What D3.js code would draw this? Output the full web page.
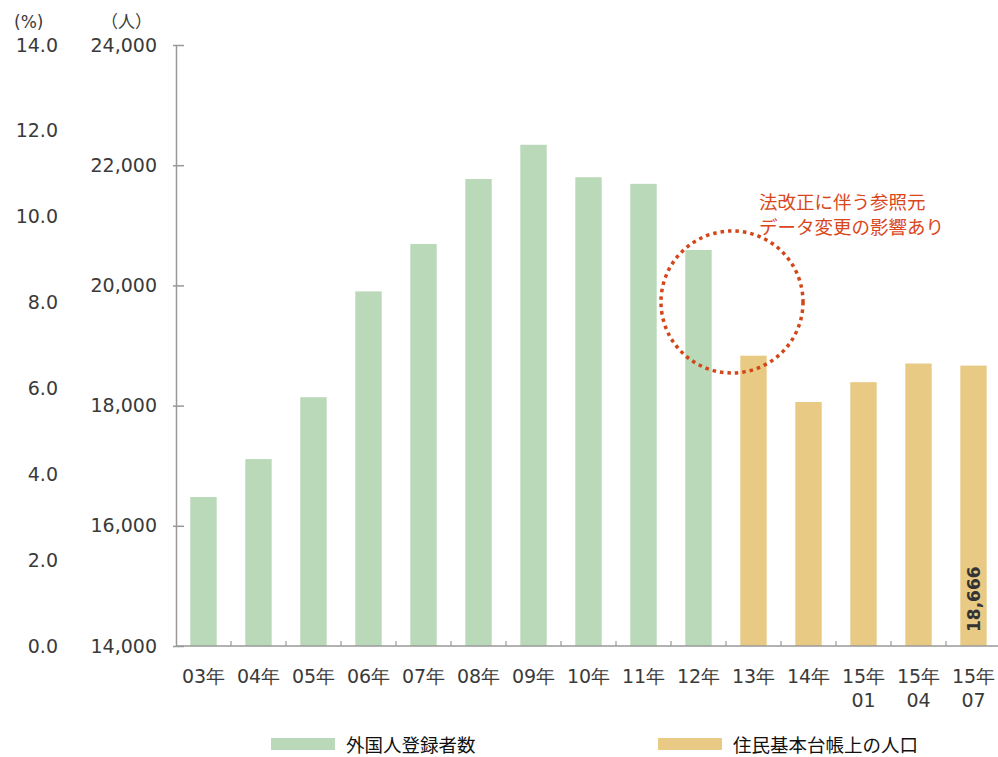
<!DOCTYPE html>
<html>
<head>
<meta charset="utf-8">
<script src="https://cdn.jsdelivr.net/npm/d3@7"></script>
<style>
  body { margin: 0; background: #fff; }
  svg text { font-family: "DejaVu Sans", Verdana, sans-serif; fill: #3a3a3a; }
  .jp { font-family: "Noto Sans CJK JP", sans-serif; }
</style>
</head>
<body>
<svg class="chart" width="998" height="757"></svg>
<script>
const categories = ['03年','04年','05年','06年','07年','08年','09年','10年','11年','12年','13年','14年','15年\n01','15年\n04','15年\n07']
const foreigners = [16480, 17110, 18140, 19900, 20690, 21770, 22340, 21800, 21690, 20590, null, null, null, null, null]
const residents = [null, null, null, null, null, null, null, null, null, null, 18830, 18060, 18390, 18700, 18666]
const countTicks = [14000, 16000, 18000, 20000, 22000, 24000]
const pctTicks = [0, 2, 4, 6, 8, 10, 12, 14]

const svg = d3.select('.chart')
const plotLeft = 176, plotRight = 1001, plotTop = 45, plotBottom = 646

const x = d3.scaleBand().domain(categories).range([plotLeft, plotRight]).paddingInner(0.52).paddingOuter(0.26)
const y = d3.scaleLinear().domain([14000, 24000]).range([plotBottom, plotTop])
const yPct = d3.scaleLinear().domain([0, 14]).range([plotBottom, plotTop])

// bars
const rows = categories.map((c, i) => ({c, f: foreigners[i], r: residents[i]}))
svg.append('g').selectAll('rect').data(rows.filter(d => d.f != null)).join('rect')
  .attr('x', d => x(d.c)).attr('width', x.bandwidth())
  .attr('y', d => y(d.f)).attr('height', d => plotBottom - y(d.f))
  .attr('fill', '#bad9b9')
svg.append('g').selectAll('rect').data(rows.filter(d => d.r != null)).join('rect')
  .attr('x', d => x(d.c)).attr('width', x.bandwidth())
  .attr('y', d => y(d.r)).attr('height', d => plotBottom - y(d.r))
  .attr('fill', '#e8ca85')

// value label in last bar
const last = rows[rows.length - 1]
svg.append('text')
  .attr('transform', `translate(${x(last.c) + x.bandwidth()/2 + 6},${plotBottom - 14}) rotate(-90)`)
  .attr('font-size', 17).attr('font-weight', 'bold').style('fill', '#333')
  .text(d3.format(',')(last.r))

// left people axis
const yAxis = svg.append('g').attr('transform', `translate(${plotLeft},0)`)
  .call(d3.axisLeft(y).tickValues(countTicks).tickFormat(d3.format(',')).tickSize(0).tickPadding(19))
yAxis.select('.domain').attr('stroke', '#999').attr('stroke-width', 1.5)
yAxis.selectAll('text').attr('font-size', 19).attr('fill', '#3a3a3a')
yAxis.selectAll('.tick').append('line').attr('x1', -3).attr('x2', 8).attr('stroke', '#999').attr('stroke-width', 1.5)

// percent axis (labels only)
const pAxis = svg.append('g').attr('transform', 'translate(58,0)')
  .call(d3.axisLeft(yPct).tickValues(pctTicks).tickFormat(d3.format('.1f')).tickSize(0).tickPadding(0))
pAxis.select('.domain').remove()
pAxis.selectAll('text').attr('font-size', 19).attr('fill', '#3a3a3a')

// bottom axis
svg.append('line').attr('x1', plotLeft).attr('x2', plotRight).attr('y1', plotBottom).attr('y2', plotBottom)
  .attr('stroke', '#999').attr('stroke-width', 1.5)
const gap = (x.step() - x.bandwidth()) / 2
svg.append('g').selectAll('line').data(categories.slice(1)).join('line')
  .attr('x1', d => x(d) - gap).attr('x2', d => x(d) - gap)
  .attr('y1', plotBottom).attr('y2', plotBottom - 5).attr('stroke', '#999').attr('stroke-width', 1.2)

const xl = svg.append('g').selectAll('text').data(categories).join('text')
  .attr('x', d => x(d) + x.bandwidth()/2).attr('y', 683)
  .attr('text-anchor', 'middle').attr('font-size', 19)
xl.selectAll('tspan').data(d => d.split('\n')).join('tspan')
  .attr('x', function() { return d3.select(this.parentNode).attr('x') })
  .attr('dy', (d, i) => i ? 24 : 0)
  .text(d => d)

// unit headers
svg.append('text').attr('x', 14).attr('y', 28).attr('font-size', 17).text('(%)')
svg.append('text').attr('x', 101).attr('y', 28).attr('font-size', 17).attr('class', 'jp').text('（人）')

// annotation
svg.append('circle').attr('cx', 732).attr('cy', 302).attr('r', 71)
  .attr('fill', 'none').attr('stroke', '#d2461a').attr('stroke-width', 3.5)
  .attr('stroke-dasharray', '3.5 4')
svg.append('g').selectAll('text')
  .data(['法改正に伴う参照元', 'データ変更の影響あり']).join('text')
  .attr('class', 'jp').attr('x', 759).attr('y', (d, i) => 209 + i * 25)
  .attr('font-size', 18.5).style('fill', '#d9471c').text(d => d)

// legend
const legend = [['外国人登録者数', '#bad9b9', 271], ['住民基本台帳上の人口', '#e8ca85', 658]]
const lg = svg.append('g').selectAll('g').data(legend).join('g')
  .attr('transform', d => `translate(${d[2]},738)`)
lg.append('rect').attr('width', 64).attr('height', 12).attr('fill', d => d[1])
lg.append('text').attr('class', 'jp').attr('x', 75).attr('y', 14).attr('font-size', 18.5)
  .style('fill', '#111').text(d => d[0])
</script>
</body>
</html>
